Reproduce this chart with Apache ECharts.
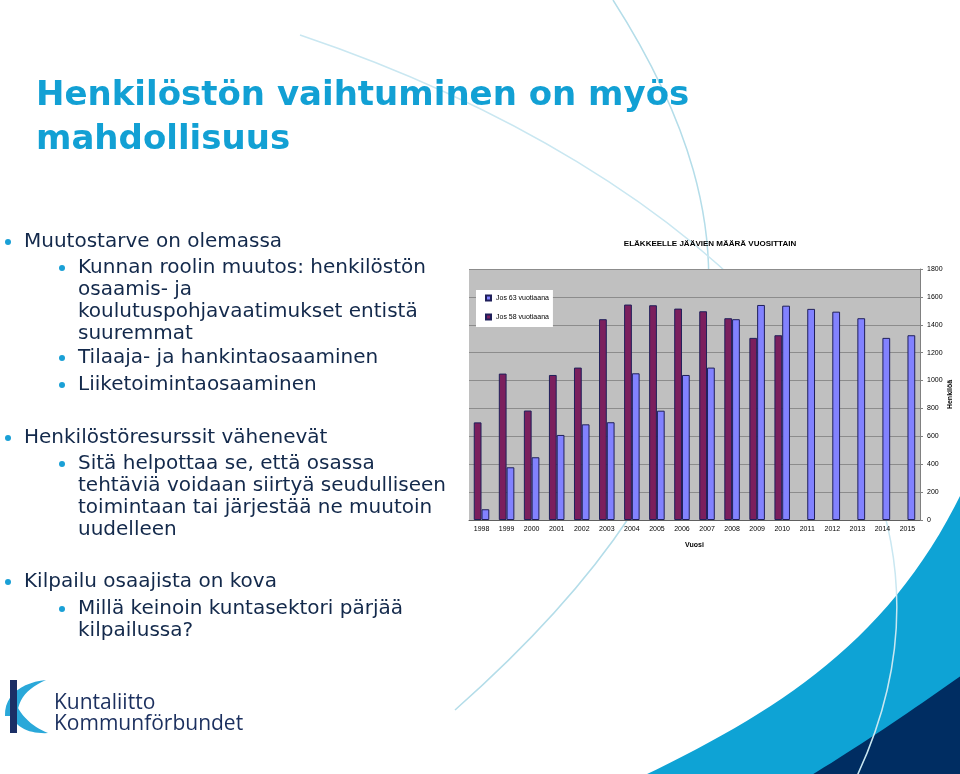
<!DOCTYPE html>
<html>
<head>
<meta charset="utf-8">
<script src="https://cdn.jsdelivr.net/npm/echarts@6/dist/echarts.min.js"></script>
<style>
html,body{margin:0;padding:0;background:#fff;}
#c{width:960px;height:774px;}
</style>
</head>
<body>
<div id="c"></div>
<script>
// ---- data ----
const years = ['1998','1999','2000','2001','2002','2003','2004','2005','2006','2007','2008','2009','2010','2011','2012','2013','2014','2015'];
const jos58 = [700,1050,785,1040,1093,1440,1545,1540,1516,1497,1447,1306,1325,null,null,null,null,null];
const jos63 = [77,378,450,610,686,701,1052,784,1040,1093,1440,1542,1537,1514,1494,1447,1306,1325];
const yTicks = {min:0, max:1800, interval:200};
const chartTitle = 'ELÄKKEELLE JÄÄVIEN MÄÄRÄ VUOSITTAIN';
const seriesNames = ['Jos 58 vuotiaana','Jos 63 vuotiaana'];
const slideTitle = ['Henkilöstön vaihtuminen on myös','mahdollisuus'];
const bullets = [
  {lvl:0, lines:['Muutostarve on olemassa'], y:242},
  {lvl:1, lines:['Kunnan roolin muutos: henkilöstön','osaamis- ja','koulutuspohjavaatimukset entistä','suuremmat'], y:268},
  {lvl:1, lines:['Tilaaja- ja hankintaosaaminen'], y:358},
  {lvl:1, lines:['Liiketoimintaosaaminen'], y:385},
  {lvl:0, lines:['Henkilöstöresurssit vähenevät'], y:438},
  {lvl:1, lines:['Sitä helpottaa se, että osassa','tehtäviä voidaan siirtyä seudulliseen','toimintaan tai järjestää ne muutoin','uudelleen'], y:464},
  {lvl:0, lines:['Kilpailu osaajista on kova'], y:582},
  {lvl:1, lines:['Millä keinoin kuntasektori pärjää','kilpailussa?'], y:609}
];
const logoText = ['Kuntaliitto','Kommunförbundet'];

// ---- helpers for decorative shapes ----
function cubicPts(p0,p1,p2,p3,n){
  const out=[];
  for(let i=0;i<=n;i++){const t=i/n,u=1-t;
    out.push([u*u*u*p0[0]+3*u*u*t*p1[0]+3*u*t*t*p2[0]+t*t*t*p3[0],
              u*u*u*p0[1]+3*u*u*t*p1[1]+3*u*t*t*p2[1]+t*t*t*p3[1]]);}
  return out;
}
const textColor = '#13294b';
const blueAccent = '#12a0d4';
const gfx = [];
// decorations
gfx.push({type:'polygon', z:-20, shape:{points:cubicPts([643,776],[780,710],[890,640],[962,492],30).concat([[962,776]])}, style:{fill:'#0ea3d5'}});
gfx.push({type:'polygon', z:-19, shape:{points:cubicPts([810,776],[856,748],[910,712],[962,675],20).concat([[962,776]])}, style:{fill:'#002d62'}});
gfx.push({type:'bezierCurve', z:-18, shape:{x1:613,y1:0,cpx1:760,cpy1:230,cpx2:760,cpy2:440,x2:455,y2:710}, style:{fill:null, stroke:'#b4dde9', lineWidth:1.5}});
gfx.push({type:'bezierCurve', z:-17, shape:{x1:300,y1:35,cpx1:700,cpy1:170,cpx2:1010,cpy2:450,x2:857,y2:776}, style:{fill:null, stroke:'#c9e7f1', lineWidth:1.5}});
// slide title
slideTitle.forEach((t,i)=>{
  gfx.push({type:'text', x:36, y:96+i*44, style:{text:t, font:'bold 34px "DejaVu Sans"', fill:blueAccent, verticalAlign:'middle', align:'left'}});
});
// bullets
bullets.forEach(b=>{
  const bx = b.lvl===0 ? 8 : 62;
  const tx = b.lvl===0 ? 24 : 78;
  gfx.push({type:'circle', shape:{cx:bx, cy:b.y, r:3}, style:{fill:'#1aa0d6'}});
  b.lines.forEach((l,i)=>{
    gfx.push({type:'text', x:tx, y:b.y+i*21.8, style:{text:l, font:'20px "DejaVu Sans"', fill:textColor, verticalAlign:'middle', align:'left'}});
  });
});
// logo
gfx.push({type:'polygon', shape:{points:cubicPts([5,716],[4,694],[24,682],[46,680],12).concat(cubicPts([46,680],[28,688],[18,698],[17,716],12))}, style:{fill:'#2aa8d9'}});
gfx.push({type:'polygon', shape:{points:cubicPts([17,706],[24,720],[36,728],[48,733],12).concat(cubicPts([48,733],[34,734],[23,730],[17,724],12))}, style:{fill:'#2aa8d9'}});
gfx.push({type:'rect', shape:{x:10,y:680,width:7,height:53}, style:{fill:'#1b2f66'}});
logoText.forEach((t,i)=>{
  gfx.push({type:'text', x:54, y:703+i*21, style:{text:t, font:'21px "Open Sans"', fill:'#1b2f5e', verticalAlign:'middle', align:'left'}});
});

const chart = echarts.init(document.getElementById('c'), null, {renderer:'canvas'});
chart.setOption({
  animation:false,
  backgroundColor:'transparent',
  graphic: gfx,
  title:{text:chartTitle, left:705, top:235, textAlign:'center',
    textStyle:{fontSize:8, fontWeight:'bold', fontFamily:'"Liberation Sans", Arial', color:'#000'}},
  legend:{
    data:[seriesNames[1], seriesNames[0]],
    orient:'vertical', left:476, top:290,
    backgroundColor:'#fff', padding:[4,4,6,9], itemGap:11,
    itemWidth:5, itemHeight:5, icon:'rect', itemTextGap:4,
    textStyle:{fontSize:7, fontFamily:'"Liberation Sans", Arial', color:'#000', lineHeight:8}
  },
  grid:{left:469, right:40, top:269, bottom:254, show:true, backgroundColor:'#c0c0c0', borderWidth:0},
  xAxis:{
    type:'category', data:years,
    name:'Vuosi', nameLocation:'middle', nameGap:22,
    nameTextStyle:{fontSize:7, fontWeight:'bold', fontFamily:'"Liberation Sans", Arial', color:'#000'},
    axisLine:{lineStyle:{color:'#606060'}},
    axisTick:{length:3, lineStyle:{color:'#606060'}},
    axisLabel:{fontSize:7, margin:6, color:'#000', fontFamily:'"Liberation Sans", Arial'}
  },
  yAxis:{
    type:'value', position:'right', min:yTicks.min, max:yTicks.max, interval:yTicks.interval,
    name:'Henkilöä', nameLocation:'middle', nameGap:27, nameRotate:90,
    nameTextStyle:{fontSize:7, fontWeight:'bold', fontFamily:'"Liberation Sans", Arial', color:'#000'},
    axisLine:{show:true, lineStyle:{color:'#808080'}},
    axisTick:{show:true, length:3, lineStyle:{color:'#808080'}},
    axisLabel:{fontSize:7, margin:7, color:'#000', fontFamily:'"Liberation Sans", Arial', formatter:v=>String(v)},
    splitLine:{lineStyle:{color:'#8c8c8c'}}
  },
  series:[
    {name:seriesNames[0], type:'bar', data:jos58, barGap:'0%', barCategoryGap:'38%',
     itemStyle:{color:'#7b1f5d', borderColor:'#1f1f5a', borderWidth:1}},
    {name:seriesNames[1], type:'bar', data:jos63, barGap:'0%', barCategoryGap:'38%',
     itemStyle:{color:'#8282ff', borderColor:'#1f1f5a', borderWidth:1}}
  ]
});
</script>
</body>
</html>
